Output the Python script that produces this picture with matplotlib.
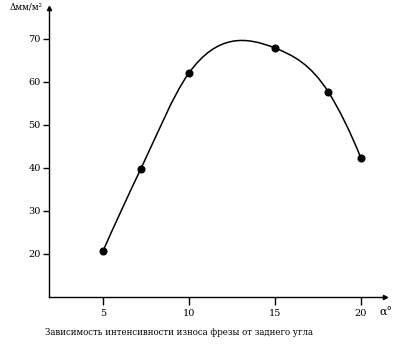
import matplotlib
matplotlib.use("Agg")
import matplotlib.pyplot as plt
from matplotlib.path import Path
from matplotlib.patches import PathPatch
import numpy as np

# angle (deg) vs wear intensity (mm/m^2)
alpha = [5, 7.2, 10, 15, 18.1, 20]
wear = [20.7, 39.8, 62.1, 67.9, 57.7, 42.3]
x_ticks = [5, 10, 15, 20]
y_ticks = [20, 30, 40, 50, 60, 70]
caption = "Зависимость интенсивности износа фрезы от заднего угла"

plt.rcParams["font.family"] = ["DejaVu Serif"]

fig = plt.figure(figsize=(4.05, 3.6), dpi=100)
ax = fig.add_axes([49 / 405, 63 / 360, 336 / 405, 289 / 360])
ax.set_xlim(1.86, 21.4)
ax.set_ylim(10, 77.2)

for side in ("top", "right"):
    ax.spines[side].set_visible(False)
for side in ("left", "bottom"):
    ax.spines[side].set_linewidth(1.0)

ax.set_xticks(x_ticks)
ax.set_yticks(y_ticks)
ax.tick_params(axis="x", length=6, width=1, pad=3, labelsize=7)
ax.tick_params(axis="y", length=4, width=1, pad=2, labelsize=7)

# axis arrows
ax.plot(1, 0, ">k", transform=ax.transAxes, clip_on=False, markersize=3)
ax.plot(0, 1, "^k", transform=ax.transAxes, clip_on=False, markersize=3)

# smooth curve: hermite segments (three-point slopes) drawn as a bezier path
x = np.array(alpha, float)
y = np.array(wear, float)
h = np.diff(x)
s = np.diff(y) / h
d = np.zeros(len(x))
d[1:-1] = (s[:-1] * h[1:] + s[1:] * h[:-1]) / (h[:-1] + h[1:])
d[0] = s[0] + (s[0] - s[1]) * h[0] / (h[0] + h[1])
d[-1] = s[-1] + (s[-1] - s[-2]) * h[-1] / (h[-1] + h[-2])

verts = [(x[0], y[0])]
codes = [Path.MOVETO]
for i in range(len(x) - 1):
    verts += [(x[i] + h[i] / 3, y[i] + h[i] * d[i] / 3),
              (x[i + 1] - h[i] / 3, y[i + 1] - h[i] * d[i + 1] / 3),
              (x[i + 1], y[i + 1])]
    codes += [Path.CURVE4] * 3
ax.add_patch(PathPatch(Path(verts, codes), fill=False, lw=1.1, ec="black"))
ax.plot(alpha, wear, "o", color="black", markersize=4.8)

fig.text(10 / 405, 1 - 9 / 360, "Δмм/м²", fontsize=6.3)
fig.text(379 / 405, 1 - 316 / 360, "α°", fontsize=8)
fig.text(45 / 405, 1 - 335 / 360, caption, fontsize=6.2)

fig.savefig("out.png", dpi=100)
